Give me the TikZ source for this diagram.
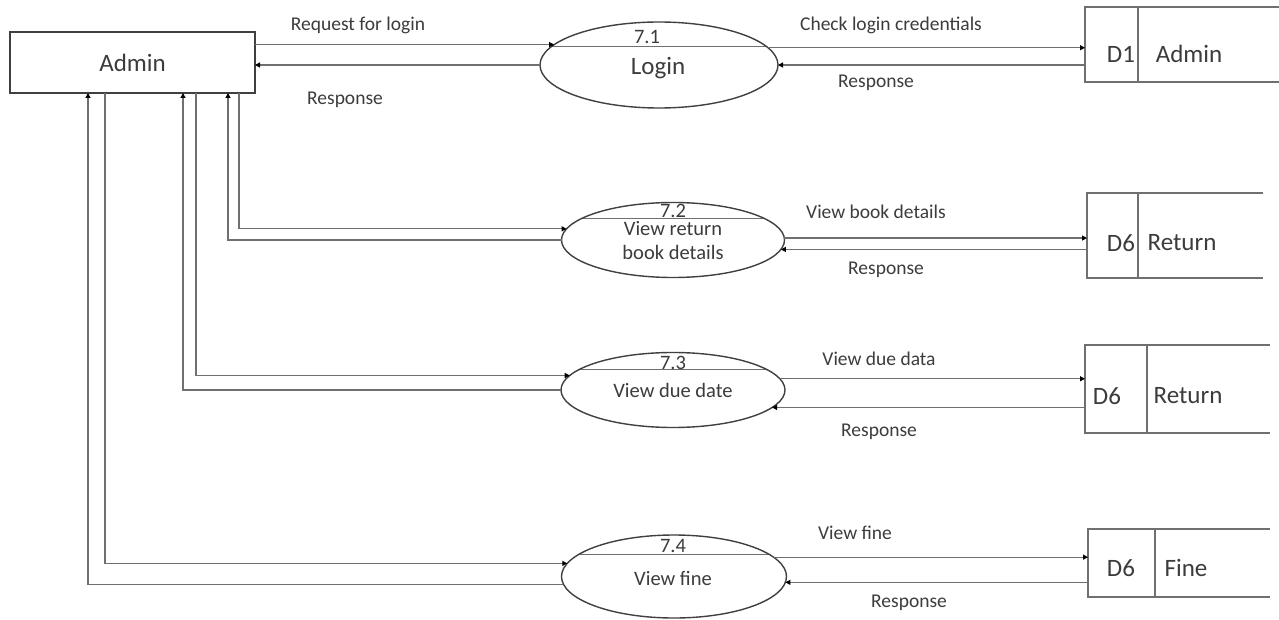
\documentclass[tikz,border=0pt]{standalone}
\usepackage{fontspec}
\setmainfont{Carlito}
\usetikzlibrary{arrows.meta,calc,shapes.geometric}
\definecolor{txt}{HTML}{3C3C3C}
\definecolor{linec}{HTML}{707070}
\definecolor{edge}{HTML}{404040}
\begin{document}
\begin{tikzpicture}[x=1pt,y=-1pt,
  lbl/.style={font=\fontsize{19.5}{22}\selectfont,text=txt,inner sep=0pt},
  etxt/.style={font=\fontsize{20.5}{23}\selectfont,text=txt,inner sep=0pt},
  big/.style={font=\fontsize{25}{28}\selectfont,text=txt,inner sep=0pt},
  proc/.style={ellipse,draw=edge,line width=1.4pt,inner sep=0pt,outer sep=0pt},
  chord/.style={path picture={\draw[linec,line width=1.1pt]
     ($(path picture bounding box.north west)!#1!(path picture bounding box.south west)$) --
     ($(path picture bounding box.north east)!#1!(path picture bounding box.south east)$);}},
  storebox/.style={rectangle,draw=none,inner sep=0pt,outer sep=0pt},
  sline/.style={draw=linec,line width=1.2pt},
  flow/.style={draw=linec,line width=1.2pt,-{Triangle[length=5pt,width=5pt,color=black]}}
]
\useasboundingbox (0,0) rectangle (1279,620);
\fill[white] (0,0) rectangle (1279,620);

% external entity
\node[rectangle,draw=edge,line width=1.8pt,minimum width=245pt,minimum height=61pt,inner sep=0pt,outer sep=0pt] (admin) at (132.5,62.5) {};
\node[big] (admint) at (132.5,63) {Admin};

% processes
\node[proc,chord=0.29,minimum width=238pt,minimum height=86pt] (p1) at (659,65) {};
\node[etxt] (p1n) at (647,37) {7.1};
\node[big] (p1t) at (658,68) {Login};

\node[proc,chord=0.21,minimum width=223pt,minimum height=75pt] (p2) at (673,240) {};
\node[etxt] (p2n) at (673,211) {7.2};
\node[etxt] (p2t) at (673,229) {View return};
\node[etxt] (p2u) at (673,252) {book details};

\node[proc,chord=0.23,minimum width=224pt,minimum height=75pt] (p3) at (673,390) {};
\node[etxt] (p3n) at (673,363) {7.3};
\node[etxt] (p3t) at (673,390) {View due date};

\node[proc,chord=0.24,minimum width=225pt,minimum height=83pt] (p4) at (674,576.5) {};
\node[etxt] (p4n) at (673,546) {7.4};
\node[etxt] (p4t) at (673,578) {View fine};

% data stores
\node[storebox,minimum width=194pt,minimum height=75pt] (d1) at (1182,44.5) {};
\draw[sline] (d1.north east) -- (d1.north west) -- (d1.south west) -- (d1.south east);
\draw[sline] ($(d1.north west)+(53,0)$) -- ($(d1.south west)+(53,0)$);
\node[big] (d1a) at (1121,54) {D1};
\node[big] (d1b) at (1189,54) {Admin};

\node[storebox,minimum width=176pt,minimum height=85pt] (d6a) at (1175,235.5) {};
\draw[sline] (d6a.north east) -- (d6a.north west) -- (d6a.south west) -- (d6a.south east);
\draw[sline] ($(d6a.north west)+(51,0)$) -- ($(d6a.south west)+(51,0)$);
\node[big] (d6aa) at (1121,243) {D6};
\node[big] (d6ab) at (1182,243) {Return};

\node[storebox,minimum width=185pt,minimum height=88pt] (d6b) at (1177.5,389) {};
\draw[sline] (d6b.north east) -- (d6b.north west) -- (d6b.south west) -- (d6b.south east);
\draw[sline] ($(d6b.north west)+(62,0)$) -- ($(d6b.south west)+(62,0)$);
\node[big] (d6ba) at (1107,396) {D6};
\node[big] (d6bb) at (1188,396) {Return};

\node[storebox,minimum width=182pt,minimum height=68pt] (d6c) at (1179,563) {};
\draw[sline] (d6c.north east) -- (d6c.north west) -- (d6c.south west) -- (d6c.south east);
\draw[sline] ($(d6c.north west)+(67,0)$) -- ($(d6c.south west)+(67,0)$);
\node[big] (d6ca) at (1121,568) {D6};
\node[big] (d6cb) at (1186,568) {Fine};

% flows 7.1
\draw[flow] (admin.east |- p1.169) -- (p1.169);
\draw[flow] (p1.west) -- (admin.east |- p1.west);
\draw[flow] (p1.9) -- (d1.west |- p1.9);
\draw[flow] (d1.west |- p1.east) -- (p1.east);
\node[lbl] (l1) at (358,25) {Request for login};
\node[lbl] (l2) at (345,100) {Response};
\node[lbl] (l3) at (891,25) {Check login credentials};
\node[lbl] (l4) at (876,83) {Response};

% flows 7.2
\draw[flow] ($(admin.south west)+(229,0)$) |- (p2.174);
\draw[flow] (p2.west) -| ($(admin.south west)+(218,0)$);
\draw[flow] (p2.1) -- (d6a.west |- p2.1);
\draw[flow] (d6a.west |- p2.355) -- (p2.355);
\node[lbl] (l5) at (876,212) {View book details};
\node[lbl] (l6) at (886,270) {Response};

% flows 7.3
\draw[flow] ($(admin.south west)+(186,0)$) |- (p3.172);
\draw[flow] (p3.west) -| ($(admin.south west)+(173,0)$);
\draw[flow] (p3.6) -- (d6b.west |- p3.6);
\draw[flow] (d6b.west |- p3.350) -- (p3.350);
\node[lbl] (l7) at (879,359) {View due data};
\node[lbl] (l8) at (879,432) {Response};

% flows 7.4
\draw[flow] ($(admin.south west)+(95,0)$) |- (p4.173);
\draw[flow] (p4.184) -| ($(admin.south west)+(78,0)$);
\draw[flow] (p4.11) -- (d6c.west |- p4.11);
\draw[flow] (d6c.west |- p4.357) -- (p4.357);
\node[lbl] (l9) at (855,533) {View fine};
\node[lbl] (l10) at (909,603) {Response};
\end{tikzpicture}
\end{document}
